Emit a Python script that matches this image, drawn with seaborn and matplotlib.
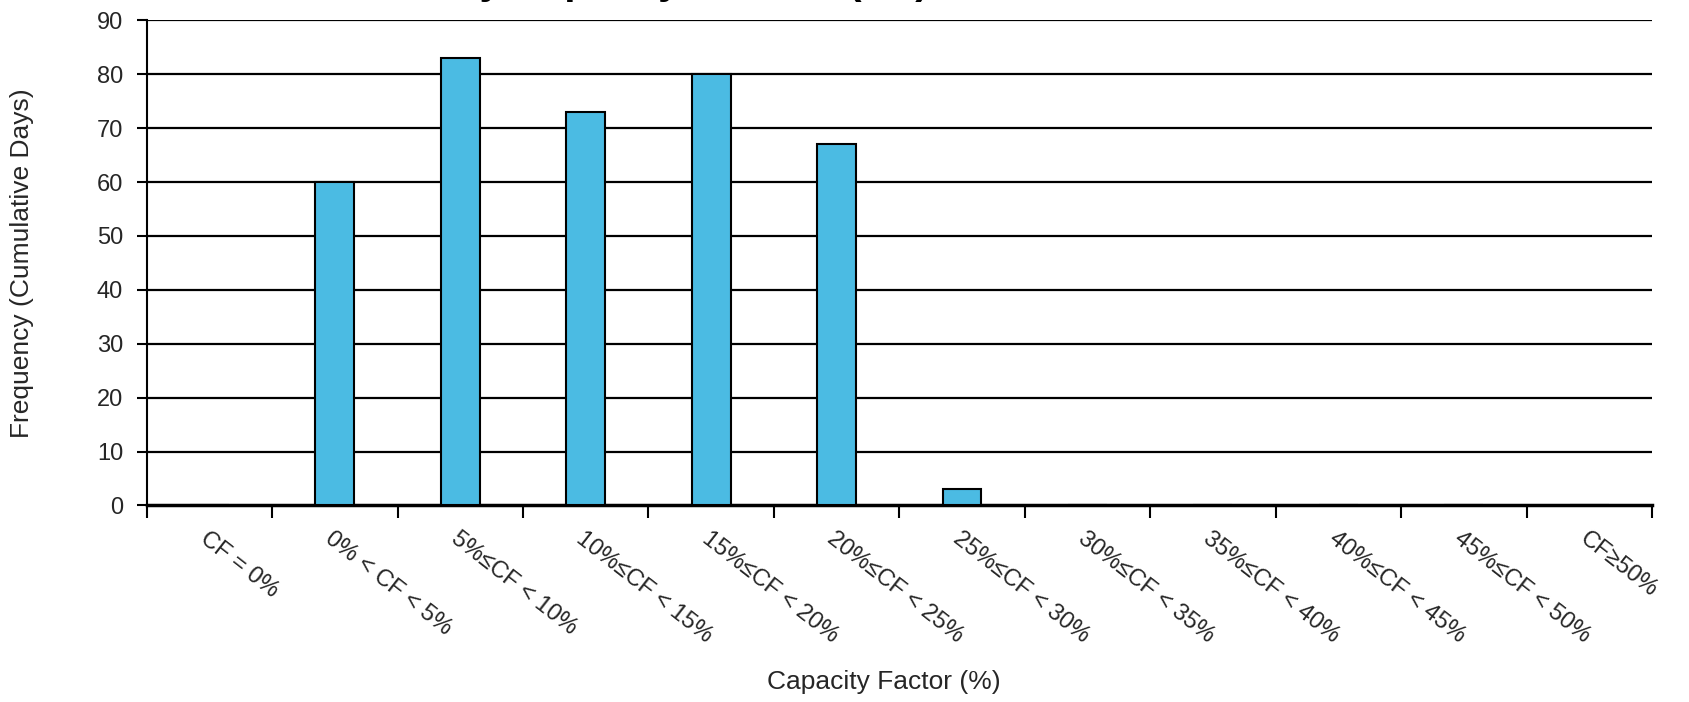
#Capacity factor histogram — daily frequency
import matplotlib
matplotlib.use("Agg")
import matplotlib.pyplot as plt
import pandas as pd
import seaborn as sns
from matplotlib.ticker import FixedLocator

sns.set_theme(style="white")
plt.rcParams["font.family"] = ["Liberation Sans Narrow", "Liberation Sans", "DejaVu Sans"]

# data
categories = ["CF = 0%", "0% < CF < 5%", "5%≤CF < 10%", "10%≤CF < 15%", "15%≤CF < 20%",
              "20%≤CF < 25%", "25%≤CF < 30%", "30%≤CF < 35%", "35%≤CF < 40%",
              "40%≤CF < 45%", "45%≤CF < 50%", "CF≥50%"]
days = [0, 60, 83, 73, 80, 67, 3, 0, 0, 0, 0, 0]
y_ticks = list(range(0, 91, 10))

BAR = "#4BBBE3"

df = pd.DataFrame({"cf": categories, "days": days})

fig = plt.figure(figsize=(16.9, 7.02), dpi=100)
ax = fig.add_axes([0.0868, 0.280, 0.8907, 0.691])

sns.barplot(data=df, x="cf", y="days", color=BAR, saturation=1, edgecolor="black",
            linewidth=1.5, width=0.31, ax=ax, zorder=3)

ax.set_ylim(0, 90)
ax.set_xlim(-0.5, len(categories) - 0.5)
ax.set_yticks(y_ticks)
for y in y_ticks[1:]:
    ax.axhline(y, color="black", lw=1.6, zorder=1)

# ticks: labels under each bar, tick marks on the category borders
ax.tick_params(axis="x", which="major", length=0, pad=16)
ax.xaxis.set_minor_locator(FixedLocator([i - 0.5 for i in range(len(categories) + 1)]))
ax.tick_params(axis="x", which="minor", length=9, width=1.5, color="black", direction="out", bottom=True)
ax.tick_params(axis="y", length=7, width=1.5, color="black", direction="out", left=True,
               labelsize=17, pad=10)
ax.set_xticks(range(len(categories)))
ax.set_xticklabels(categories, rotation=-38, ha="left", va="top", rotation_mode="anchor", fontsize=17)

for side in ["top", "right"]:
    ax.spines[side].set_visible(False)
ax.spines["left"].set_color("black")
ax.spines["left"].set_linewidth(1.5)
ax.spines["bottom"].set_color("black")
ax.spines["bottom"].set_linewidth(2.5)

ax.set_xlabel("Capacity Factor (%)", fontsize=19)
ax.set_ylabel("Frequency (Cumulative Days)", fontsize=19)
ax.xaxis.set_label_coords(0.49, -0.34)
ax.yaxis.set_label_coords(-0.075, 0.5)

# title sits just above the top edge in the reference, only descenders show
fig.text(120 / 1690, 1 + 6.5 / 702, "Distribution of Daily Capacity Factors (CF)",
         ha="left", va="baseline", fontsize=29, fontweight="bold", color="black")

plt.savefig("out.png", dpi=100)
plt.close()
